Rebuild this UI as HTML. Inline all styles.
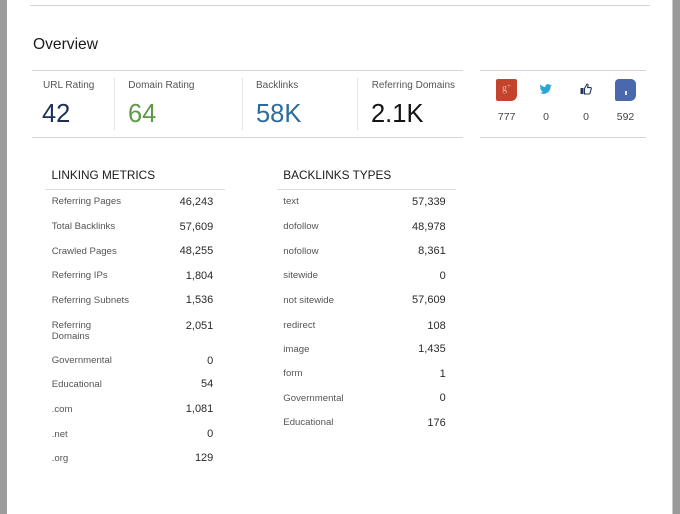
<!DOCTYPE html>
<html><head><meta charset="utf-8"><style>
*{margin:0;padding:0;box-sizing:border-box}
html,body{width:680px;height:514px;overflow:hidden;background:#fff;font-family:"Liberation Sans",Arial,sans-serif}
.a{position:absolute;white-space:nowrap;line-height:1}
.hl{position:absolute;height:1px;background:#d6d6d6}
.vl{position:absolute;width:1px;background:#e6e6e6}
.lab{font-size:10px;color:#555}
.big{font-size:25.5px}
.rl{font-size:9.6px;color:#555}
.rv{font-size:11px;color:#2a2a2a;text-align:right;width:80px}
.sn{font-size:10.5px;color:#444;text-align:center;width:40px}
</style></head><body>
<div style="position:absolute;left:0;top:0;width:7px;height:514px;background:#9d9d9d"></div>
<div style="position:absolute;left:672px;top:0;width:8px;height:514px;background:#9a9a9a;border-left:1px solid #c8c8c8"></div>

<div class="hl" style="left:30px;top:5px;width:620px;background:#d2d2d2"></div>
<div class="a" style="left:33px;top:37px;font-size:15.6px;color:#1a1a1a">Overview</div>

<div class="hl" style="left:32px;top:70px;width:431px"></div>
<div class="hl" style="left:32px;top:137px;width:431px"></div>
<div class="vl" style="left:114px;top:78px;height:52px"></div>
<div class="vl" style="left:242px;top:78px;height:52px"></div>
<div class="vl" style="left:357px;top:78px;height:52px"></div>

<div class="a lab" style="left:43px;top:80.7px">URL Rating</div>
<div class="a lab" style="left:128.3px;top:80.7px">Domain Rating</div>
<div class="a lab" style="left:256px;top:80.7px">Backlinks</div>
<div class="a lab" style="left:371.7px;top:80.7px">Referring Domains</div>
<div class="a big" style="left:42px;top:101.7px;color:#1d2f57">42</div>
<div class="a big" style="left:128px;top:101.7px;color:#5f9a48">64</div>
<div class="a big" style="left:256px;top:101.7px;color:#2d6c9b">58K</div>
<div class="a big" style="left:371px;top:101.7px;color:#141414">2.1K</div>

<div class="hl" style="left:480px;top:70px;width:166px"></div>
<div class="hl" style="left:480px;top:137px;width:166px"></div>
<div style="position:absolute;left:496px;top:79px;width:21px;height:22px;background:#c3432c;border-radius:2px 2px 6px 2px;color:#efb3a3;font-size:10px;font-family:'Liberation Serif',serif;text-align:center;line-height:20px">g<span style="font-size:7px;vertical-align:top;line-height:14px">+</span></div>
<svg style="position:absolute;left:540px;top:84px" width="12" height="10" viewBox="0 0 24 20"><path d="M23 2.5c-.9.4-1.8.6-2.8.8 1-.6 1.8-1.6 2.1-2.7-.9.6-2 1-3.1 1.2C18.3.8 17 .2 15.6.2c-2.7 0-4.9 2.2-4.9 4.9 0 .4 0 .8.1 1.1C6.8 6 3.2 4.1.8 1.1c-.4.7-.7 1.6-.7 2.5 0 1.700.9 3.2 2.2 4.1-.8 0-1.600-.2-2.200-.6v.1c0 2.4 1.700 4.4 3.900 4.8-.4.1-.8.2-1.300.2-.3 0-.6 0-.9-.1.6 2 2.400 3.400 4.600 3.400-1.700 1.300-3.800 2.100-6.100 2.100H-.4c2.200 1.400 4.800 2.200 7.500 2.200 9.100 0 14-7.500 14-14v-.6c1-.7 1.800-1.600 2.500-2.500z" fill="#2aa4d9"/></svg>
<svg style="position:absolute;left:580px;top:83px" width="12" height="12" viewBox="0 0 12 12"><rect x="0.5" y="5" width="3" height="6" fill="#23345a"/><path d="M4.5 5.5 L7 1 Q8.3 1 8 3 L7.6 4.6 L10.6 4.6 Q11.6 4.8 11.2 6 L10 10.3 Q9.7 11 9 11 L4.5 11 Z" fill="none" stroke="#23345a" stroke-width="1.1"/></svg>
<div style="position:absolute;left:615px;top:79px;width:21px;height:22px;background:#4a68ad;border-radius:4px 5px 6px 2px"></div>
<div style="position:absolute;left:625px;top:91px;width:2px;height:4px;background:#dfe6f3"></div>
<div class="a sn" style="left:486.7px;top:112px">777</div>
<div class="a sn" style="left:526px;top:112px">0</div>
<div class="a sn" style="left:566px;top:112px">0</div>
<div class="a sn" style="left:605.5px;top:112px">592</div>

<div class="a" style="left:51.5px;top:170.4px;font-size:11.8px;color:#1a1a1a">LINKING METRICS</div>
<div class="hl" style="left:45px;top:189px;width:180px;background:#dcdcdc"></div>
<div class="a" style="left:283.3px;top:170.4px;font-size:11.8px;color:#1a1a1a">BACKLINKS TYPES</div>
<div class="hl" style="left:277px;top:189px;width:179px;background:#dcdcdc"></div>

<div class="a rl" style="left:51.7px;top:197px">Referring Pages</div><div class="a rv" style="left:133.3px;top:196.5px">46,243</div>
<div class="a rl" style="left:51.7px;top:222px">Total Backlinks</div><div class="a rv" style="left:133.3px;top:221.5px">57,609</div>
<div class="a rl" style="left:51.7px;top:246.5px">Crawled Pages</div><div class="a rv" style="left:133.3px;top:246px">48,255</div>
<div class="a rl" style="left:51.7px;top:271px">Referring IPs</div><div class="a rv" style="left:133.3px;top:270.5px">1,804</div>
<div class="a rl" style="left:51.7px;top:295.5px">Referring Subnets</div><div class="a rv" style="left:133.3px;top:295px">1,536</div>
<div class="a rl" style="left:51.7px;top:321px">Referring</div><div class="a rl" style="left:51.7px;top:332px">Domains</div><div class="a rv" style="left:133.3px;top:320.5px">2,051</div>
<div class="a rl" style="left:51.7px;top:356px">Governmental</div><div class="a rv" style="left:133.3px;top:355.5px">0</div>
<div class="a rl" style="left:51.7px;top:379.5px">Educational</div><div class="a rv" style="left:133.3px;top:379px">54</div>
<div class="a rl" style="left:51.7px;top:404.5px">.com</div><div class="a rv" style="left:133.3px;top:404px">1,081</div>
<div class="a rl" style="left:51.7px;top:429.5px">.net</div><div class="a rv" style="left:133.3px;top:429px">0</div>
<div class="a rl" style="left:51.7px;top:453.5px">.org</div><div class="a rv" style="left:133.3px;top:453px">129</div>

<div class="a rl" style="left:283.3px;top:197px">text</div><div class="a rv" style="left:365.7px;top:196.5px">57,339</div>
<div class="a rl" style="left:283.3px;top:222px">dofollow</div><div class="a rv" style="left:365.7px;top:221.5px">48,978</div>
<div class="a rl" style="left:283.3px;top:246.5px">nofollow</div><div class="a rv" style="left:365.7px;top:246px">8,361</div>
<div class="a rl" style="left:283.3px;top:271px">sitewide</div><div class="a rv" style="left:365.7px;top:270.5px">0</div>
<div class="a rl" style="left:283.3px;top:295.5px">not sitewide</div><div class="a rv" style="left:365.7px;top:295px">57,609</div>
<div class="a rl" style="left:283.3px;top:321px">redirect</div><div class="a rv" style="left:365.7px;top:320.5px">108</div>
<div class="a rl" style="left:283.3px;top:344.5px">image</div><div class="a rv" style="left:365.7px;top:344px">1,435</div>
<div class="a rl" style="left:283.3px;top:369px">form</div><div class="a rv" style="left:365.7px;top:368.5px">1</div>
<div class="a rl" style="left:283.3px;top:393.5px">Governmental</div><div class="a rv" style="left:365.7px;top:393px">0</div>
<div class="a rl" style="left:283.3px;top:418px">Educational</div><div class="a rv" style="left:365.7px;top:417.5px">176</div>
</body></html>
